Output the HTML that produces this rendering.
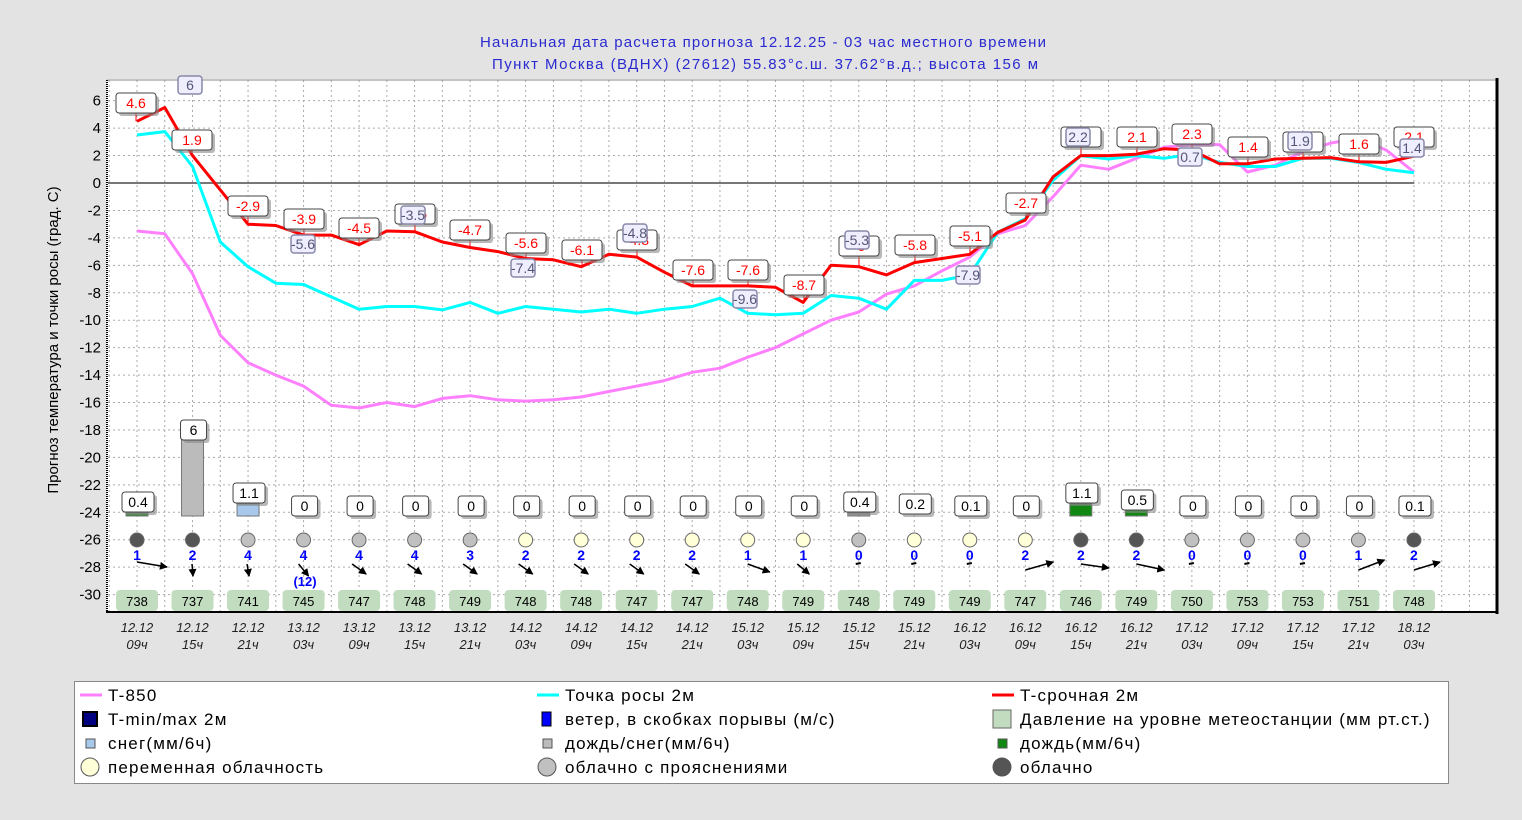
<!DOCTYPE html>
<html><head><meta charset="utf-8"><style>
body{margin:0;background:#e3e3e3;}
svg{display:block;font-family:"Liberation Sans",sans-serif;}
</style></head><body>
<svg id="s" width="1522" height="820" xmlns="http://www.w3.org/2000/svg"></svg>
<script>
const S=document.getElementById('s');let h='';
const X0=137,DX=27.76,Y=v=>183-v*13.72;
h+='<rect x="107" y="79" width="1391" height="533" fill="#fff"/>';
h+='<text x="480" y="47" textLength="566" lengthAdjust="spacing" font-size="15" fill="#2a2ad0">Начальная дата расчета прогноза 12.12.25 - 03 час местного времени</text>';
h+='<text x="492" y="69" textLength="546" lengthAdjust="spacing" font-size="15" fill="#2a2ad0">Пункт  Москва (ВДНХ) (27612)   55.83°с.ш.  37.62°в.д.; высота 156 м</text>';
for(let i=-1;i<=49;i++){let x=X0+i*DX;if(x>108&&x<1497)h+=`<line x1="${x}" y1="80" x2="${x}" y2="612" stroke="#aaa" stroke-dasharray="2,3"/>`;}
for(let v=6;v>=-30;v-=2){let y=Y(v);h+=`<line x1="108" y1="${y}" x2="1497" y2="${y}" stroke="#aaa" stroke-dasharray="2,3"/>`;
h+=`<text x="101" y="${y+5}" text-anchor="end" font-size="15" fill="#000">${v}</text>`;}
h+=`<line x1="108" y1="183" x2="1414" y2="183" stroke="#777" stroke-width="2"/>`;
h+='<line x1="107" y1="80" x2="1498" y2="80" stroke="#888"/>';
h+='<line x1="107" y1="80" x2="107" y2="612" stroke="#000" stroke-width="2" stroke-dasharray="1,1"/>';
h+='<line x1="1497" y1="78" x2="1497" y2="614" stroke="#000" stroke-width="3"/>';
h+='<line x1="106" y1="612" x2="1498" y2="612" stroke="#000" stroke-width="2"/>';
h+='<text transform="translate(58,340) rotate(-90)" text-anchor="middle" font-size="15">Прогноз температура и точки росы (град. С)</text>';
const M=[-3.5,-3.7,-6.6,-11.1,-13.1,-14.0,-14.8,-16.2,-16.4,-16.0,-16.3,-15.7,-15.5,-15.8,-15.9,-15.8,-15.6,-15.2,-14.8,-14.4,-13.8,-13.5,-12.7,-12.0,-11.0,-10.0,-9.4,-8.1,-7.5,-6.4,-5.4,-3.7,-3.1,-1.0,1.3,1.0,1.8,2.6,2.8,2.8,0.8,1.3,2.3,2.9,3.3,2.4,0.8];
const C=[3.5,3.75,1.2,-4.3,-6.1,-7.3,-7.4,-8.3,-9.2,-9.0,-9.0,-9.25,-8.7,-9.5,-9.0,-9.2,-9.4,-9.2,-9.5,-9.2,-9.0,-8.4,-9.5,-9.6,-9.5,-8.2,-8.4,-9.2,-7.1,-7.1,-6.7,-3.6,-2.6,0.2,2.0,1.75,2.0,1.8,2.1,1.5,1.2,1.2,1.8,1.8,1.5,1.0,0.75];
const R=[4.5,5.5,2.0,-0.5,-3.0,-3.1,-3.8,-3.8,-4.5,-3.5,-3.55,-4.3,-4.7,-5.0,-5.5,-5.6,-6.1,-5.2,-5.4,-6.5,-7.5,-7.5,-7.5,-7.6,-8.7,-6.0,-6.1,-6.7,-5.8,-5.5,-5.2,-3.6,-2.7,0.45,2.0,2.0,2.1,2.5,2.4,1.4,1.4,1.75,1.8,1.85,1.55,1.5,1.95];
const pl=(a,c)=>{h+=`<polyline fill="none" stroke="${c}" stroke-width="3" stroke-linejoin="round" points="${a.map((v,i)=>(X0+i*DX).toFixed(1)+','+Y(v).toFixed(1)).join(' ')}"/>`;};
pl(M,'#ff80ff');pl(C,'#00ffff');pl(R,'#ff0000');
const box=(x,y,t,col,w)=>{w=w||40;h+=`<rect x="${x-w/2+3}" y="${y-10+3}" width="${w}" height="20" rx="3" fill="#888" opacity=".6"/><rect x="${x-w/2}" y="${y-10}" width="${w}" height="20" rx="3" fill="#fff" stroke="#444"/><text x="${x}" y="${y+5}" text-anchor="middle" font-size="14" fill="${col}">${t}</text>`;};
const bbox=(x,y,t)=>{h+=`<rect x="${x-12}" y="${y-9}" width="24" height="18" rx="3" fill="#eef" stroke="#88a" stroke-width="1.5"/><text x="${x}" y="${y+5}" text-anchor="middle" font-size="14" fill="#557">${t}</text>`;};
const RL=[[136,103,'4.6'],[192,140,'1.9'],[248,206,'-2.9'],[304,219,'-3.9'],[359,228,'-4.5'],[415,214,'-3.5'],[470,230,'-4.7'],[526,243,'-5.6'],[582,250,'-6.1'],[637,240,'-4.8'],[693,270,'-7.6'],[748,270,'-7.6'],[804,285,'-8.7'],[859,246,'-6'],[915,245,'-5.8'],[970,236,'-5.1'],[1026,203,'-2.7'],[1081,137,'2.2'],[1137,137,'2.1'],[1192,134,'2.3'],[1248,147,'1.4'],[1303,142,'1.9'],[1359,144,'1.6'],[1414,137,'2.1']];
RL.forEach(([x,y,t],i)=>{h+=`<line x1="${x}" y1="${y+10}" x2="${x}" y2="${Y(R[i*2])}" stroke="#f00"/>`;box(x,y,t,'#f00');});
[[190,85,'6'],[303,244,'-5.6'],[413,215,'-3.5'],[523,268,'-7.4'],[635,233,'-4.8'],[745,299,'-9.6'],[857,240,'-5.3'],[968,275,'-7.9'],[1078,137,'2.2'],[1190,157,'0.7'],[1300,141,'1.9'],[1412,148,'1.4']].forEach(a=>bbox(...a));
const P=['0.4','6','1.1','0','0','0','0','0','0','0','0','0','0','0.4','0.2','0.1','0','1.1','0.5','0','0','0','0','0.1'];
const bars={0:[513,'#228b22'],1:[440,'#bbb'],2:[504,'#a8c8ec'],13:[513,'#999'],17:[504,'#118811'],18:[510,'#118811']};
const LY={0:502,1:430,2:493,13:502,14:504,17:493,18:500};
const CL='ddgggggccccccgcccddggggd';
const W=[1,2,4,4,4,4,3,2,2,2,2,1,1,0,0,0,2,2,2,0,0,0,1,2];
const AR=[[0,-2,30,5],[0,0,1,12],[0,0,2,12],[0,0,10,12],[0,0,14,10],[0,0,14,10],[0,0,14,10],[0,0,14,10],[0,0,14,10],[0,0,14,10],[0,0,14,10],[0,0,22,8],[0,0,12,10],null,null,null,[0,6,28,-8],[0,0,28,4],[0,0,28,6],null,null,null,[0,6,26,-10],[0,6,26,-8]];
const PR=[738,737,741,745,747,748,749,748,748,747,747,748,749,748,749,749,747,746,749,750,753,753,751,748];
const D1=['12.12','12.12','12.12','13.12','13.12','13.12','13.12','14.12','14.12','14.12','14.12','15.12','15.12','15.12','15.12','16.12','16.12','16.12','16.12','17.12','17.12','17.12','17.12','18.12'];
const D2=['09ч','15ч','21ч','03ч'];
h+='<defs><marker id="a" markerWidth="8" markerHeight="8" refX="7" refY="4" orient="auto" markerUnits="userSpaceOnUse"><path d="M0,0L8,4L0,8z" fill="#000"/></marker></defs>';
for(let k=0;k<24;k++){const x=X0+k*2*DX;
 if(bars[k]){const [t,c]=bars[k];h+=`<rect x="${x-11}" y="${t}" width="22" height="${516-t}" fill="${c}" stroke="#777"/>`;}
 box(x+1,LY[k]||506,P[k],'#000',P[k].length>1?32:26);
 const cc={d:'#555',g:'#c0c0c0',c:'#ffffd8'}[CL[k]];
 h+=`<circle cx="${x}" cy="540" r="7" fill="${cc}" stroke="#666"/>`;
 h+=`<text x="${x}" y="560" text-anchor="middle" font-size="14" font-weight="bold" fill="#00f">${W[k]}</text>`;
 if(AR[k]){const [ax,ay,bx,by]=AR[k];const sx=x-(bx>20?0:bx/2)+ax,sy=564+ay;
 h+=`<line x1="${sx}" y1="${sy}" x2="${sx+bx}" y2="${sy+by}" stroke="#000" stroke-width="1.5" marker-end="url(#a)"/>`;}
 else h+=`<line x1="${x-3}" y1="564" x2="${x+2}" y2="563" stroke="#000" stroke-width="2"/>`;
 h+=`<rect x="${x-21}" y="590" width="42" height="21" rx="4" fill="#c2dcc0"/><text x="${x}" y="606" text-anchor="middle" font-size="13">${PR[k]}</text>`;
 h+=`<text x="${x}" y="632" text-anchor="middle" font-size="13" font-style="italic" fill="#222">${D1[k]}</text><text x="${x}" y="649" text-anchor="middle" font-size="13" font-style="italic" fill="#222">${D2[k%4]}</text>`;
}
h+='<text x="305" y="586" text-anchor="middle" font-size="13" font-weight="bold" fill="#00f">(12)</text>';
h+='<rect x="74.5" y="681.5" width="1374" height="102" fill="#fff" stroke="#888"/>';
const L=[[0,695,'line','#ff80ff','T-850'],[1,695,'line','#00ffff','Точка росы 2м'],[2,695,'line','#f00','T-срочная 2м'],
[0,719,'sq','#000080','T-min/max 2м'],[1,719,'sqs','#0000ff','ветер, в скобках порывы (м/с)'],[2,719,'big','#c2dcc0','Давление на уровне метеостанции (мм рт.ст.)'],
[0,743,'sm','#a8c8ec','снег(мм/6ч)'],[1,743,'sm','#bbb','дождь/снег(мм/6ч)'],[2,743,'sm','#118811','дождь(мм/6ч)'],
[0,767,'c','#ffffd8','переменная облачность'],[1,767,'c','#c0c0c0','облачно с прояснениями'],[2,767,'c','#555','облачно']];
const LX=[78,535,990];
L.forEach(([c,y,t,col,txt])=>{const x=LX[c];
 if(t=='line')h+=`<line x1="${x+2}" y1="${y}" x2="${x+24}" y2="${y}" stroke="${col}" stroke-width="3"/>`;
 if(t=='sq')h+=`<rect x="${x+5}" y="${y-7}" width="14" height="14" fill="${col}" stroke="#000" stroke-width="2"/>`;
 if(t=='sqs')h+=`<rect x="${x+7}" y="${y-7}" width="9" height="14" fill="${col}" stroke="#000"/>`;
 if(t=='big')h+=`<rect x="${x+3}" y="${y-9}" width="18" height="18" fill="${col}" stroke="#666"/>`;
 if(t=='sm')h+=`<rect x="${x+8}" y="${y-4}" width="9" height="9" fill="${col}" stroke="#555"/>`;
 if(t=='c')h+=`<circle cx="${x+12}" cy="${y}" r="9" fill="${col}" stroke="#555"/>`;
 h+=`<text x="${x+30}" y="${y+6}" font-size="17" letter-spacing="1.2">${txt}</text>`;});
S.innerHTML=h;
</script>
</body></html>
